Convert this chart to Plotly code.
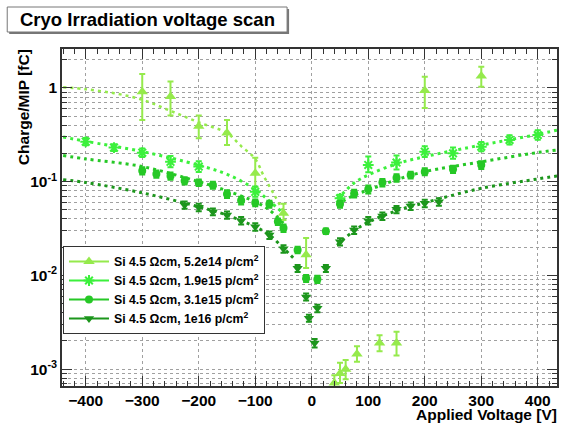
import plotly.graph_objects as go

# ---------------- data ----------------
names = ["Si 4.5 Ωcm, 5.2e14 p/cm<sup>2</sup>",
         "Si 4.5 Ωcm, 1.9e15 p/cm<sup>2</sup>",
         "Si 4.5 Ωcm, 3.1e15 p/cm<sup>2</sup>",
         "Si 4.5 Ωcm, 1e16 p/cm<sup>2</sup>"]
colors = ["#95ea4c", "#3cf03c", "#26c826", "#1c961c"]

# 5.2e14
v1 = [-300, -250, -200, -150, -100, -50, -10, 40, 50, 60, 80, 120, 150, 200, 300]
q1 = [0.91, 0.81, 0.39, 0.33, 0.123, 0.046, 0.0166, 7.1e-4, 9.0e-4, 1.0e-3, 1.45e-3, 1.9e-3, 1.9e-3, 0.94, 1.34]
e1p = [0.50, 0.36, 0.12, 0.125, 0.057, 0.012, 0.0084, 1.5e-4, 2.7e-4, 2.5e-4, 3.0e-4, 4.0e-4, 6.0e-4, 0.38, 0.35]
e1m = [0.455, 0.30, 0.10, 0.084, 0.035, 0.007, 0.0046, 1.5e-4, 1.9e-4, 2.2e-4, 2.5e-4, 3.5e-4, 5.0e-4, 0.33, 0.31]

# 1.9e15
v2 = [-400, -350, -300, -250, -200, -100, 50, 100, 150, 200, 250, 300, 350, 400]
q2 = [0.267, 0.231, 0.204, 0.163, 0.145, 0.078, 0.0665, 0.151, 0.160, 0.209, 0.201, 0.236, 0.279, 0.315]
e2p = [0.025, 0.02, 0.022, 0.025, 0.02, 0.011, 0.006, 0.035, 0.03, 0.03, 0.03, 0.03, 0.035, 0.04]
e2m = [0.022, 0.018, 0.02, 0.02, 0.018, 0.009, 0.005, 0.025, 0.025, 0.025, 0.025, 0.025, 0.03, 0.035]

# 3.1e15
v3 = [-300, -275, -250, -225, -200, -175, -150, -125, -100, -75, -60, -50, -25, -10, 10, 25, 50, 75, 100, 125, 150, 175, 200, 250, 300]
q3 = [0.131, 0.121, 0.115, 0.1025, 0.0977, 0.092, 0.074, 0.063, 0.0597, 0.0578, 0.0375, 0.032, 0.0187, 0.0093, 0.0091,
      0.0296, 0.0578, 0.075, 0.083, 0.098, 0.110, 0.118, 0.128, 0.136, 0.151]
e3 = [0.012, 0.011, 0.010, 0.009, 0.008, 0.008, 0.007, 0.006, 0.005, 0.005, 0.003, 0.003, 0.0015, 0.0008, 0.0008,
      0.002, 0.005, 0.007, 0.008, 0.009, 0.01, 0.01, 0.011, 0.012, 0.014]

# 1e16
v4 = [-225, -200, -175, -150, -125, -100, -75, -50, -25, -10, -5, 5, 10, 25, 50, 75, 100, 125, 150, 175, 200, 225]
q4 = [0.0564, 0.0533, 0.0479, 0.0442, 0.0384, 0.033, 0.027, 0.0192, 0.0119, 0.0059, 0.0035, 0.0019, 0.00445,
      0.0119, 0.0229, 0.0305, 0.0384, 0.043, 0.0507, 0.055, 0.0588, 0.061]
e4 = [0.005, 0.005, 0.004, 0.004, 0.0035, 0.003, 0.0025, 0.0018, 0.001, 0.0005, 0.0003, 0.0002, 0.0004,
      0.001, 0.002, 0.0028, 0.0035, 0.004, 0.0045, 0.005, 0.0055, 0.0055]

# fitted curves (dotted)
f1v = [-440, -400, -350, -300, -250, -200, -150, -125, -100, -85, -65, -50]
f1q = [1.02, 0.97, 0.88, 0.75, 0.57, 0.43, 0.33, 0.24, 0.175, 0.115, 0.07, 0.048]
f2lv = [-440, -400, -300, -200, -150, -100, -75, -50]
f2lq = [0.30, 0.27, 0.21, 0.15, 0.12, 0.083, 0.062, 0.046]
f2rv = [45, 50, 75, 100, 150, 200, 300, 350, 400, 434]
f2rq = [0.066, 0.07, 0.097, 0.118, 0.155, 0.185, 0.246, 0.28, 0.32, 0.355]
f3lv = [-440, -400, -300, -200, -150, -100, -75, -50]
f3lq = [0.19, 0.175, 0.145, 0.10, 0.08, 0.061, 0.05, 0.036]
f3rv = [45, 50, 75, 100, 150, 200, 300, 400, 434]
f3rq = [0.056, 0.059, 0.072, 0.0815, 0.105, 0.128, 0.163, 0.205, 0.218]
f4lv = [-440, -400, -300, -200, -150, -100, -75, -50, -30]
f4lq = [0.105, 0.098, 0.076, 0.054, 0.044, 0.033, 0.027, 0.0195, 0.0148]
f4rv = [45, 50, 75, 100, 150, 200, 300, 400, 434]
f4rq = [0.021, 0.0225, 0.03, 0.037, 0.049, 0.0597, 0.085, 0.107, 0.115]

x_ticks = [-400, -300, -200, -100, 0, 100, 200, 300, 400]
y_ticks = [1e-3, 1e-2, 1e-1, 1]
y_ticktext = ["10<sup>-3</sup>", "10<sup>-2</sup>", "10<sup>-1</sup>", "1"]
symbols = ["triangle-up", "asterisk-open", "circle", "triangle-down"]
sizes = [10, 9, 8, 9]

# ---------------- figure ----------------
fig = go.Figure()

fits = [[(f1v, f1q)], [(f2lv, f2lq), (f2rv, f2rq)], [(f3lv, f3lq), (f3rv, f3rq)], [(f4lv, f4lq), (f4rv, f4rq)]]
for i, segs in enumerate(fits):
    for fx, fy in segs:
        fig.add_trace(go.Scatter(x=fx, y=fy, mode="lines", showlegend=False, hoverinfo="skip",
                                 line=dict(color=colors[i], width=3 if i else 2.5, dash="3px,4px", shape="spline")))

data = [(v1, q1, e1p, e1m), (v2, q2, e2p, e2m), (v3, q3, e3, e3), (v4, q4, e4, e4)]
for i, (vx, vy, ep, em) in enumerate(data):
    mk = dict(symbol=symbols[i], size=sizes[i], color=colors[i])
    if symbols[i] == "asterisk-open":
        mk["line"] = dict(color=colors[i], width=2)
    fig.add_trace(go.Scatter(x=vx, y=vy, mode="markers", showlegend=False, marker=mk,
                             error_y=dict(type="data", array=ep, arrayminus=em, symmetric=False,
                                          color=colors[i], thickness=2, width=3)))

for i in range(4):
    mk = dict(symbol=symbols[i], size=sizes[i], color=colors[i])
    if symbols[i] == "asterisk-open":
        mk["line"] = dict(color=colors[i], width=2)
    fig.add_trace(go.Scatter(x=[None], y=[None], mode="lines+markers", name="<b>" + names[i] + "</b>",
                             line=dict(color=colors[i], width=2), marker=mk))

L, R, T, B = 62, 559, 49, 386
W, H = 564, 423
pw, ph = R - L, B - T
def px(x): return (x - L) / pw
def py(y): return (B - y) / ph

tickfont = dict(size=15.5, family="Liberation Sans", weight="bold", color="black")

fig.update_layout(
    width=W, height=H,
    margin=dict(l=L, r=W - R, t=T, b=H - B),
    paper_bgcolor="white", plot_bgcolor="white",
    font=dict(family="Liberation Sans, Arial, Helvetica, sans-serif", color="black"),
    showlegend=True,
    legend=dict(x=px(63), y=py(246), xanchor="left", yanchor="top",
                bgcolor="white", bordercolor="#333", borderwidth=1,
                font=dict(size=12.3, color="black"), itemwidth=40, tracegroupgap=0),
    xaxis=dict(range=[-442, 434], tickmode="array", tickvals=x_ticks,
               ticks="inside", ticklen=10, tickwidth=1, tickcolor="#333",
               mirror="ticks", showline=True, linecolor="#333", linewidth=1.5,
               showgrid=True, gridcolor="#a0a0a0", griddash="dot", gridwidth=1,
               zeroline=False, tickfont=tickfont,
               minor=dict(dtick=20, tick0=0, ticks="inside", ticklen=5, tickcolor="#333", showgrid=False)),
    yaxis=dict(type="log", range=[-3.18, 0.416], tickmode="array", tickvals=y_ticks, ticktext=y_ticktext,
               ticks="inside", ticklen=10, tickwidth=1, tickcolor="#333",
               mirror="ticks", showline=True, linecolor="#333", linewidth=1.5,
               showgrid=True, gridcolor="#a0a0a0", griddash="dot", gridwidth=1,
               zeroline=False, tickfont=tickfont,
               minor=dict(tickmode="array",
                          tickvals=[m * 10.0 ** e for e in (-4, -3, -2, -1, 0) for m in range(2, 10)],
                          ticks="inside", ticklen=5, tickcolor="#333",
                          showgrid=True, gridcolor="#a0a0a0", griddash="dot", gridwidth=1)),
)

# title box with shadow
fig.add_shape(type="rect", xref="paper", yref="paper", x0=px(9), x1=px(290), y0=py(34), y1=py(9),
              fillcolor="#777", line=dict(width=0), layer="above")
fig.add_shape(type="rect", xref="paper", yref="paper", x0=px(7), x1=px(288), y0=py(32), y1=py(7),
              fillcolor="white", line=dict(color="#777", width=1), layer="above")
fig.add_annotation(text="<b>Cryo Irradiation voltage scan</b>", xref="paper", yref="paper",
                   x=px(147.5), y=py(19.5), xanchor="center", yanchor="middle", showarrow=False,
                   font=dict(size=18.5, color="black"))

# axis titles (ROOT style: right/top aligned)
fig.add_annotation(text="<b>Applied Voltage [V]</b>", xref="paper", yref="paper",
                   x=px(561), y=py(414), xanchor="right", yanchor="middle", showarrow=False,
                   font=dict(size=15.5, color="black"))
fig.add_annotation(text="<b>Charge/MIP [fC]</b>", xref="paper", yref="paper", textangle=-90,
                   x=px(23), y=py(47), xanchor="center", yanchor="top", showarrow=False,
                   font=dict(size=15.5, color="black"))

fig.write_html("out.html", config={"displayModeBar": False},
               post_script="document.body.style.margin='0';document.body.style.overflow='hidden';")
